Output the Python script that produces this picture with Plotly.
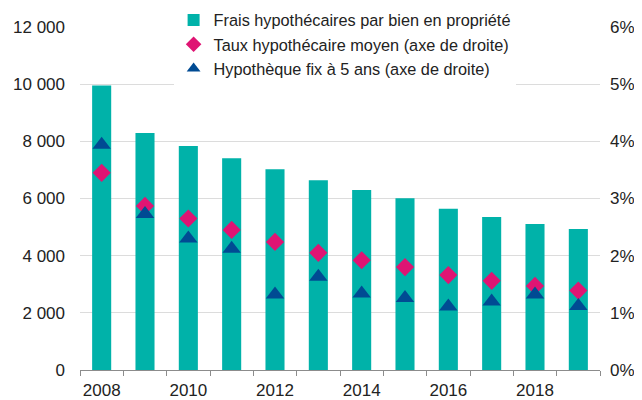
import plotly.graph_objects as go

years = list(range(2008, 2020))
frais = [9950, 8290, 7840, 7410, 7020, 6640, 6300, 6010, 5640, 5350, 5110, 4935]
taux_moyen = [3.45, 2.87, 2.65, 2.45, 2.24, 2.05, 1.92, 1.80, 1.66, 1.56, 1.47, 1.39]
fix_5_ans = [3.94, 2.73, 2.30, 2.12, 1.32, 1.63, 1.34, 1.26, 1.11, 1.20, 1.32, 1.12]

left_ticks = [0, 2000, 4000, 6000, 8000, 10000, 12000]
right_ticks = [0, 1, 2, 3, 4, 5, 6]
right_labels = ["0%", "1%", "2%", "3%", "4%", "5%", "6%"]
x_labels = [2008, 2010, 2012, 2014, 2016, 2018]

teal = "#00B2A9"
pink = "#DF1473"
navy = "#004B93"
font = "Liberation Sans, Arial, sans-serif"

fig = go.Figure()
fig.add_trace(go.Bar(
    x=years, y=frais, name="Frais hypothécaires par bien en propriété",
    marker=dict(color=teal, line=dict(width=0)),
))
fig.add_trace(go.Scatter(
    x=years, y=taux_moyen, yaxis="y2", mode="markers",
    name="Taux hypothécaire moyen (axe de droite)",
    marker=dict(symbol="diamond", size=14, color=pink),
))
fig.add_trace(go.Scatter(
    x=years, y=fix_5_ans, yaxis="y2", mode="markers",
    name="Hypothèque fix à 5 ans (axe de droite)",
    marker=dict(symbol="triangle-up", size=16, color=navy),
))

# the page body adds an 8px offset, margins compensate for it
fig.update_layout(
    width=642, height=400,
    margin=dict(l=72, r=50, t=19, b=38, autoexpand=False),
    paper_bgcolor="white", plot_bgcolor="white",
    font=dict(family=font, size=17, color="#222222"),
    separators=", ",
    bargap=0.56,
    showlegend=True,
    legend=dict(
        x=0.18, y=1.07, xanchor="left", yanchor="top",
        bgcolor="white", font=dict(size=16.3),
        tracegroupgap=0, itemsizing="constant",
    ),
    xaxis=dict(
        range=[2007.5, 2019.5],
        tickvals=x_labels, ticks="", showgrid=False,
        showline=True, linecolor="#8c8c8c", linewidth=1,
        minor=dict(tick0=2007.5, dtick=1, ticks="outside", ticklen=5,
                   tickcolor="#8c8c8c", showgrid=False),
        zeroline=False, ticklabelstandoff=5,
    ),
    yaxis=dict(
        range=[0, 12000], tickvals=left_ticks, tickformat=",d",
        showgrid=True, gridcolor="#dcdcdc", gridwidth=1,
        zeroline=False, showline=False, ticklabelstandoff=14,
    ),
    yaxis2=dict(
        range=[0, 6], tickvals=right_ticks, ticktext=right_labels,
        overlaying="y", side="right", showgrid=False,
        zeroline=False, showline=False, ticklabelstandoff=9,
    ),
)

fig.write_html("out.html")
